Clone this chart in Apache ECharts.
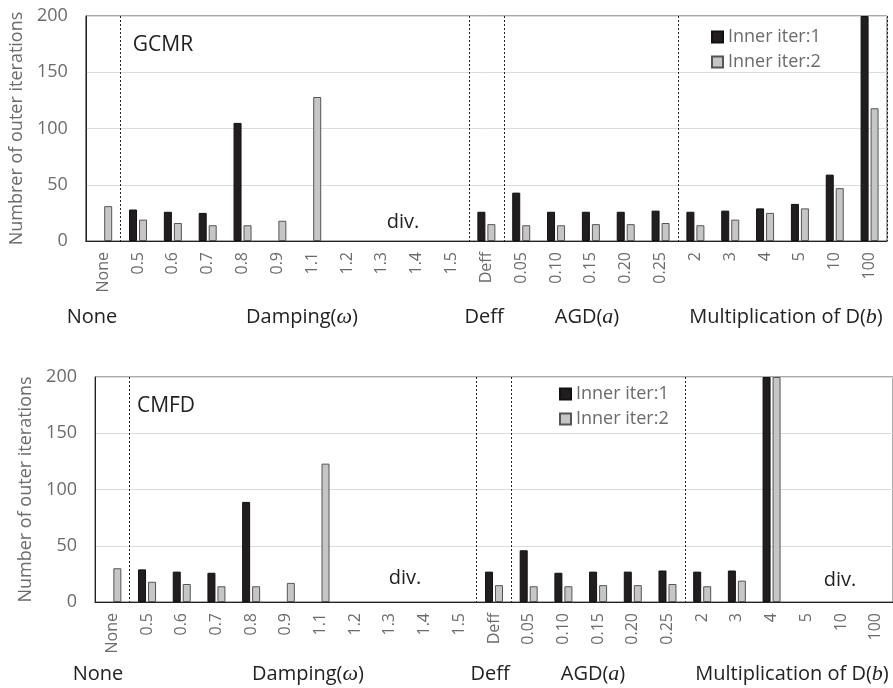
<!DOCTYPE html>
<html>
<head>
<meta charset="utf-8">
<script src="https://cdn.jsdelivr.net/npm/echarts/dist/echarts.min.js"></script>
<style>
  body { margin: 0; background: #fff; }
  #chart { width: 893px; height: 688px; }
</style>
</head>
<body>
<div id="chart"></div>
<script>
// categories along both x axes
const categories = ['None', '0.5', '0.6', '0.7', '0.8', '0.9', '1.1', '1.2', '1.3', '1.4', '1.5',
  'Deff', '0.05', '0.10', '0.15', '0.20', '0.25', '2', '3', '4', '5', '10', '100'];
// category index where a dotted separator starts
const separators = [1, 11, 12, 17];

// GCMR (top)
const gcmrIter1 = [null, 28, 26, 25, 105, null, null, null, null, null, null,
  26, 43, 26, 26, 26, 27, 26, 27, 29, 33, 59, 200];
const gcmrIter2 = [31, 19, 16, 14, 14, 18, 128, null, null, null, null,
  15, 14, 14, 15, 15, 16, 14, 19, 25, 29, 47, 118];
// CMFD (bottom)
const cmfdIter1 = [null, 29, 27, 26, 89, null, null, null, null, null, null,
  27, 46, 26, 27, 27, 28, 27, 28, 200, null, null, null];
const cmfdIter2 = [30, 18, 16, 14, 14, 17, 123, null, null, null, null,
  15, 14, 14, 15, 15, 16, 14, 19, 200, null, null, null];

const yTicks = [0, 50, 100, 150, 200];

const FONT = 'Open Sans';
const GRAY = '#6b6b6b';

const chart = echarts.init(document.getElementById('chart'));

function xAxis(gridIndex) {
  return {
    type: 'category', gridIndex: gridIndex, data: categories,
    axisLine: { lineStyle: { color: '#222', width: 1 } },
    axisTick: { show: false },
    axisLabel: { rotate: 90, margin: 11, color: GRAY, fontSize: 16, fontFamily: FONT },
    splitLine: {
      show: true,
      interval: function (i) { return separators.indexOf(i) >= 0; },
      lineStyle: { color: '#222', type: [2, 2], width: 1 }
    }
  };
}
function yAxis(gridIndex, name) {
  return {
    type: 'value', gridIndex: gridIndex, min: yTicks[0], max: yTicks[yTicks.length - 1], interval: 50,
    name: name, nameLocation: 'middle', nameGap: 51,
    nameTextStyle: { color: GRAY, fontSize: 18, fontFamily: FONT },
    axisLine: { show: true, lineStyle: { color: '#222' } },
    axisTick: { show: false },
    axisLabel: { margin: 18, color: GRAY, fontSize: 18, fontFamily: FONT },
    splitLine: { lineStyle: { color: '#dcdcdc' } }
  };
}
function bars(name, data, gi, dark) {
  return {
    name: name, type: 'bar', xAxisIndex: gi, yAxisIndex: gi, data: data,
    barWidth: 8, barGap: '25%',
    itemStyle: dark
      ? { color: '#221e1f', borderColor: '#111', borderWidth: 1 }
      : { color: '#c6c6c6', borderColor: '#555', borderWidth: 1 }
  };
}
function legend(left, top) {
  return {
    data: ['Inner iter:1', 'Inner iter:2'], orient: 'vertical', left: left, top: top,
    padding: 0, icon: 'rect', itemWidth: 11, itemHeight: 11, itemGap: 5,
    textStyle: { color: GRAY, fontSize: 18, fontFamily: FONT, lineHeight: 20 }
  };
}
function label(text, x, y, size) {
  return {
    type: 'text', x: x, y: y,
    style: {
      text: text, align: 'center', verticalAlign: 'middle', fill: '#222',
      font: size + 'px "' + FONT + '"',
      rich: {
        m: { fontFamily: 'Liberation Serif', fontStyle: 'italic', fontSize: size + 2, fill: '#222' }
      }
    }
  };
}
function groupLabels(dx, y) {
  return [
    label('None', 92 + dx, y, 20),
    label('Damping({m|ω})', 302 + dx, y, 20),
    label('Deff', 484 + dx, y, 20),
    label('AGD({m|a})', 587 + dx, y, 20),
    label('Multiplication of D({m|b})', 786 + dx, y, 20)
  ];
}

chart.setOption({
  animation: false,
  textStyle: { fontFamily: FONT },
  grid: [
    { left: 85, top: 16, right: 6, height: 225, show: true, borderColor: '#555', borderWidth: 1 },
    { left: 95, top: 377, right: -4, height: 225, show: true, borderColor: '#555', borderWidth: 1 }
  ],
  legend: [legend(711, 27), legend(559, 384)],
  xAxis: [xAxis(0), xAxis(1)],
  yAxis: [yAxis(0, 'Numbrer of outer iterations'), yAxis(1, 'Number of outer iterations')],
  series: [
    bars('Inner iter:1', gcmrIter1, 0, true),
    bars('Inner iter:2', gcmrIter2, 0, false),
    bars('Inner iter:1', cmfdIter1, 1, true),
    bars('Inner iter:2', cmfdIter2, 1, false)
  ],
  graphic: [
    label('GCMR', 163, 45, 21),
    label('div.', 403, 222, 20),
    label('CMFD', 166, 406, 21),
    label('div.', 405, 578, 20),
    label('div.', 840, 580, 20)
  ].concat(groupLabels(0, 317), groupLabels(6, 674))
});
</script>
</body>
</html>
